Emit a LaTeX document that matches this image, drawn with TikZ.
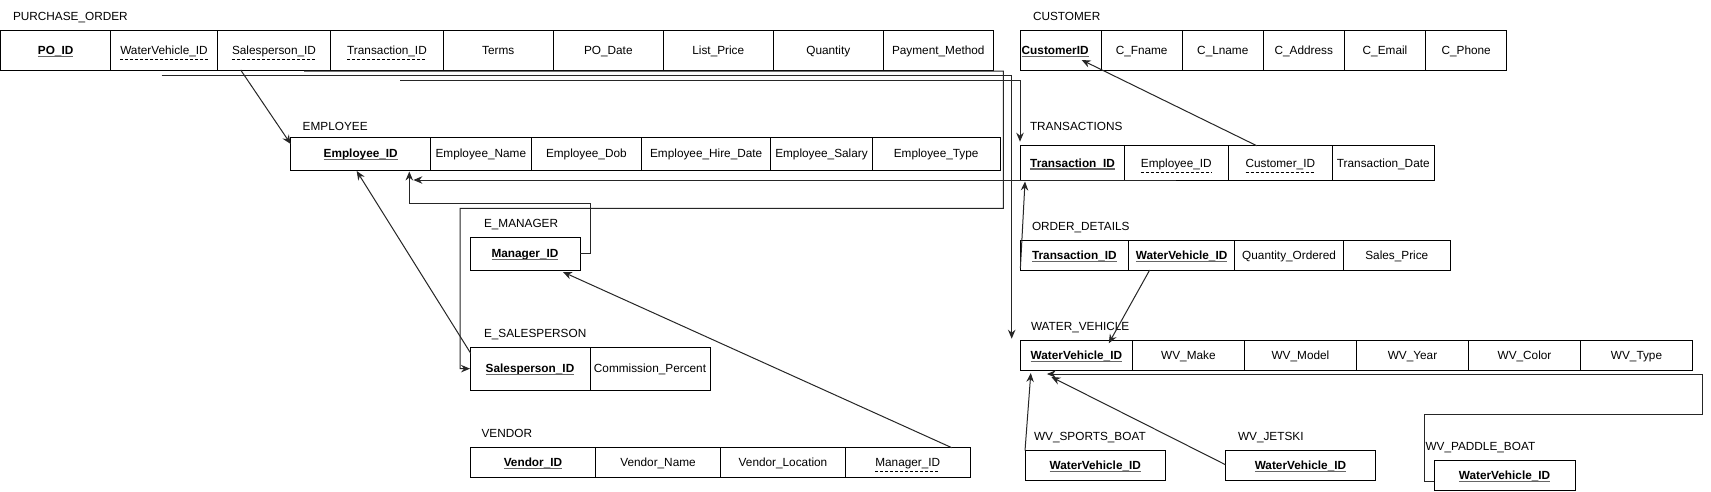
\documentclass[tikz,border=0pt]{standalone}
\usepackage{fontspec}
\setmainfont{Liberation Sans}
\usetikzlibrary{arrows.meta,calc}
\newcommand\fsz{\fontsize{11.8}{14}\selectfont}
\tikzset{
 cell/.style={draw=black, line width=1pt, inner sep=0pt, outer sep=0pt},
 txt/.style={inner sep=0pt, outer sep=0pt, anchor=base, font=\fsz},
 ttl/.style={inner sep=0pt, outer sep=0pt, anchor=base west, font=\fsz},
 pkline/.style={draw=black!60, line width=1.1pt},
 fkline/.style={draw=black, line width=0.8pt, dash pattern=on 3pt off 2pt},
 conn/.style={draw=black!85, line width=1pt, -{Stealth[length=9pt,width=7.5pt,inset=3pt]}},
}
% name, x1, x2, y1, y2, text
\newcommand\bcell[6]{%
  \node[cell, minimum width={#3-#2}, minimum height={#5-#4}] (#1) at ({(#2+#3)/2},{(#4+#5)/2}) {};
  \node[txt] (#1t) at ($(#1.center)+(0,4.2)$) {#6};}
\newcommand\pcell[6]{\bcell{#1}{#2}{#3}{#4}{#5}{#6}}
\newcommand\kcell[6]{\bcell{#1}{#2}{#3}{#4}{#5}{\bfseries #6}%
  \draw[pkline] ($(#1t.base west)+(0,1.9)$) -- ($(#1t.base east)+(0,1.9)$);}
\newcommand\fcell[6]{\bcell{#1}{#2}{#3}{#4}{#5}{#6}%
  \draw[fkline] ($(#1t.base west)+(0,5)$) -- ($(#1t.base east)+(0,5)$);}
\begin{document}
\begin{tikzpicture}[x=1pt,y=-1pt]
\useasboundingbox (0,0) rectangle (1711,491);
\fill[white] (0,0) rectangle (1711,491);

% PURCHASE_ORDER
\node[ttl] (tpo) at (13,20.5) {PURCHASE\_ORDER};
\kcell{po1}{0.5}{110.7}{30.7}{70}{PO\_ID}
\fcell{po2}{110.7}{217.3}{30.7}{70}{WaterVehicle\_ID}
\fcell{po3}{217.3}{330.7}{30.7}{70}{Salesperson\_ID}
\fcell{po4}{330.7}{443.3}{30.7}{70}{Transaction\_ID}
\pcell{po5}{443.3}{553.3}{30.7}{70}{Terms}
\pcell{po6}{553.3}{663.3}{30.7}{70}{PO\_Date}
\pcell{po7}{663.3}{773.3}{30.7}{70}{List\_Price}
\pcell{po8}{773.3}{883.3}{30.7}{70}{Quantity}
\pcell{po9}{883.3}{993.3}{30.7}{70}{Payment\_Method}

% CUSTOMER
\node[ttl] (tcu) at (1033,20.5) {CUSTOMER};
\node[cell, minimum width=80.3, minimum height=39.3] (cu1) at (1060.85,50.35) {};
\node[txt, anchor=base west] (cu1t) at ($(cu1.west)+(1,4.2)$) {\bfseries CustomerID};
\draw[pkline] ($(cu1t.base west)+(0,1.9)$) -- ($(cu1t.base east)+(0,1.9)$);
\pcell{cu2}{1101}{1182.3}{30.7}{70}{C\_Fname}
\pcell{cu3}{1182.3}{1263.3}{30.7}{70}{C\_Lname}
\pcell{cu4}{1263.3}{1344.3}{30.7}{70}{C\_Address}
\pcell{cu5}{1344.3}{1425.7}{30.7}{70}{C\_Email}
\pcell{cu6}{1425.7}{1506.7}{30.7}{70}{C\_Phone}

% EMPLOYEE
\node[ttl] (temp) at (302.7,130) {EMPLOYEE};
\kcell{emp1}{290.7}{430.7}{137.3}{170}{Employee\_ID}
\pcell{emp2}{430.7}{531}{137.3}{170}{Employee\_Name}
\pcell{emp3}{531}{641.7}{137.3}{170}{Employee\_Dob}
\pcell{emp4}{641.7}{770.7}{137.3}{170}{Employee\_Hire\_Date}
\pcell{emp5}{770.7}{872.3}{137.3}{170}{Employee\_Salary}
\pcell{emp6}{872.3}{1000}{137.3}{170}{Employee\_Type}

% TRANSACTIONS
\node[ttl] (ttr) at (1030,130) {TRANSACTIONS};
\kcell{tr1}{1020.7}{1124.3}{145.7}{180}{Transaction\_ID}
\fcell{tr2}{1124.3}{1228.3}{145.7}{180}{Employee\_ID}
\fcell{tr3}{1228.3}{1332.3}{145.7}{180}{Customer\_ID}
\pcell{tr4}{1332.3}{1434.3}{145.7}{180}{Transaction\_Date}

% E_MANAGER
\node[ttl] (tmg) at (484,227) {E\_MANAGER};
\kcell{mg}{470}{580}{237.3}{270}{Manager\_ID}

% E_SALESPERSON
\node[ttl] (tsp) at (484,337.3) {E\_SALESPERSON};
\kcell{sp1}{470}{590}{347.3}{390}{Salesperson\_ID}
\pcell{sp2}{590}{710}{347.3}{390}{Commission\_Percent}

% VENDOR
\node[ttl] (tv) at (481.6,437.3) {VENDOR};
\kcell{v1}{470.3}{595.6}{447.7}{477.3}{Vendor\_ID}
\pcell{v2}{595.6}{720.4}{447.7}{477.3}{Vendor\_Name}
\pcell{v3}{720.4}{845.6}{447.7}{477.3}{Vendor\_Location}
\fcell{v4}{845.6}{970}{447.7}{477.3}{Manager\_ID}

% ORDER_DETAILS
\node[ttl] (tod) at (1032,230) {ORDER\_DETAILS};
\kcell{od1}{1020.4}{1128.3}{240.3}{270}{Transaction\_ID}
\kcell{od2}{1128.3}{1234.9}{240.3}{270}{WaterVehicle\_ID}
\pcell{od3}{1234.9}{1343.3}{240.3}{270}{Quantity\_Ordered}
\pcell{od4}{1343.3}{1450.3}{240.3}{270}{Sales\_Price}

% WATER_VEHICLE
\node[ttl] (twv) at (1031,330.7) {WATER\_VEHICLE};
\kcell{wv1}{1020.4}{1132.4}{340.7}{370}{WaterVehicle\_ID}
\pcell{wv2}{1132.4}{1244.4}{340.7}{370}{WV\_Make}
\pcell{wv3}{1244.4}{1356.5}{340.7}{370}{WV\_Model}
\pcell{wv4}{1356.5}{1468.5}{340.7}{370}{WV\_Year}
\pcell{wv5}{1468.5}{1580.5}{340.7}{370}{WV\_Color}
\pcell{wv6}{1580.5}{1692.5}{340.7}{370}{WV\_Type}

% subtypes
\node[ttl] (tsb) at (1034,440) {WV\_SPORTS\_BOAT};
\kcell{sb}{1025}{1165.5}{450.7}{480}{WaterVehicle\_ID}
\node[ttl] (tjs) at (1238,440) {WV\_JETSKI};
\kcell{js}{1225.4}{1375.5}{450.7}{480}{WaterVehicle\_ID}
\node[ttl] (tpb) at (1425.5,450) {WV\_PADDLE\_BOAT};
\kcell{pb}{1434}{1575}{460}{490}{WaterVehicle\_ID}

% connectors
\draw[conn] ($(po3.south west)+(23.4,0)$) -- ($(emp1.north west)+(0,6.7)$);
\draw[conn] ($(po3.south west)+(86.7,1)$) -- (1003.3,71) -- (1003.3,208.3) -| ($(sp1.west)+(-10,0)$) -- (sp1.west);
\draw[conn] ($(po2.south)+(-2.5,5)$) -| ($(wv1.north west)+(-8.7,-2)$);
\draw[conn] ($(po4.south)+(13,10)$) -| ($(tr1.north west)+(-0.7,-4)$);
\draw[conn] (tr2.south) -- ($(emp1.south east)+(-17.3,10)$);
\draw[conn] (mg.east) -- ++(10,0) |- ($(emp1.south east)+(-21.4,33.3)$) -- ($(emp1.south east)+(-21.4,1.5)$);
\draw[conn] ($(sp1.north west)+(0.7,6)$) -- ($(emp1.south)+(-4,1)$);
\draw[conn] ($(v4.north)+(44,0)$) -- ($(mg.south east)+(-17,2)$);
\draw[conn] ($(tr3.north)+(-23.6,0)$) -- ($(cu1.south)+(20.8,-10)$);
\draw[conn] ($(od1.south west)+(0,-2)$) -- ($(tr1.south west)+(4.3,1.5)$);
\draw[conn] ($(od2.south)+(-31.9,0)$) -- ($(wv1.north)+(32.4,2.6)$);
\draw[conn] (sb.north west) -- ($(wv1.south west)+(10.4,3)$);
\draw[conn] ($(js.west)+(0,-0.7)$) -- ($(wv1.south west)+(31,7)$);
\draw[conn] ($(pb.south west)+(0,-8.8)$) -- ++(-10,0) |- (1702,414.7) |- ($(wv1.south west)+(26.5,4)$);
\end{tikzpicture}
\end{document}
